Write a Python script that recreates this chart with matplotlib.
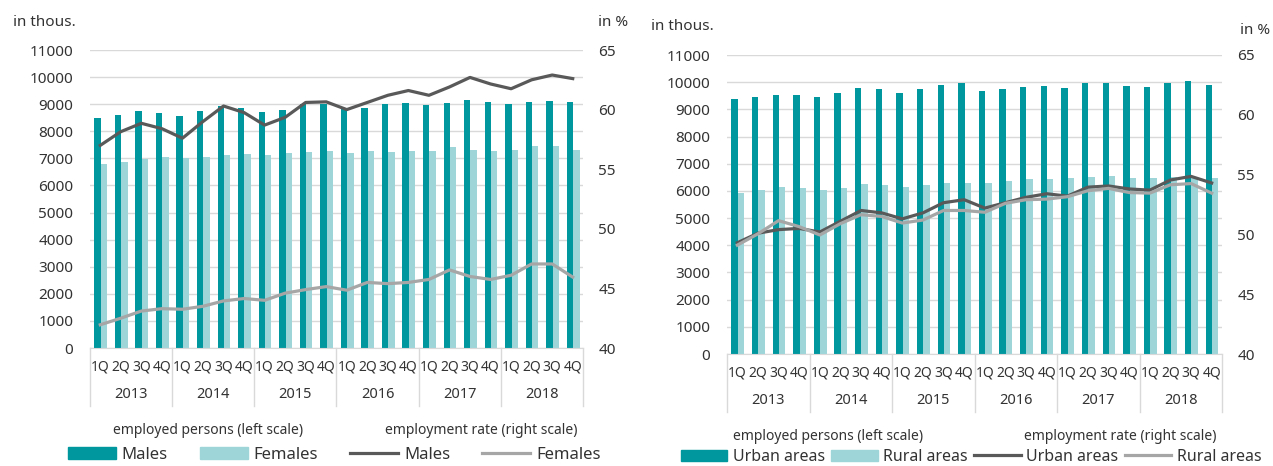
import numpy as np
import matplotlib.pyplot as plt
from matplotlib.patches import Patch
from matplotlib.lines import Line2D

plt.rcParams['font.family'] = ['Noto Sans', 'DejaVu Sans']

# data
years = ['2013', '2014', '2015', '2016', '2017', '2018']
quarters = ['1Q', '2Q', '3Q', '4Q']

# left chart: by sex
males_emp = [8480, 8600, 8730, 8690, 8570, 8730, 8920, 8870, 8700, 8800, 8990, 9000,
             8820, 8870, 9000, 9030, 8960, 9030, 9170, 9090, 9000, 9080, 9130, 9080]
females_emp = [6790, 6870, 6990, 7040, 7000, 7040, 7120, 7160, 7120, 7210, 7250, 7280,
               7210, 7280, 7250, 7280, 7280, 7420, 7320, 7280, 7320, 7460, 7460, 7320]
males_rate = [57.0, 58.15, 58.85, 58.4, 57.6, 59.0, 60.3, 59.75, 58.7, 59.35, 60.6, 60.65,
              60.0, 60.6, 61.2, 61.6, 61.2, 61.9, 62.7, 62.15, 61.75, 62.5, 62.9, 62.6]
females_rate = [41.95, 42.5, 43.1, 43.3, 43.25, 43.5, 43.95, 44.15, 44.0, 44.6, 44.9, 45.15,
                44.85, 45.5, 45.4, 45.5, 45.75, 46.55, 46.0, 45.75, 46.1, 47.05, 47.05, 45.95]

# right chart: by area
urban_emp = [9380, 9470, 9530, 9530, 9470, 9620, 9780, 9740, 9620, 9740, 9900, 9960,
             9690, 9740, 9815, 9865, 9780, 9960, 9960, 9865, 9815, 9985, 10035, 9900]
rural_emp = [5920, 6040, 6160, 6125, 6040, 6125, 6260, 6210, 6160, 6210, 6300, 6300,
             6300, 6370, 6420, 6420, 6470, 6510, 6545, 6470, 6470, 6500, 6500, 6470]
urban_rate = [49.3, 50.1, 50.4, 50.5, 50.2, 51.1, 52.0, 51.8, 51.3, 51.8, 52.65, 52.9,
              52.2, 52.65, 53.1, 53.4, 53.2, 53.95, 54.05, 53.8, 53.7, 54.55, 54.85, 54.3]
rural_rate = [49.1, 50.05, 51.15, 50.65, 49.95, 50.9, 51.65, 51.5, 50.95, 51.2, 52.0, 52.0,
              51.85, 52.6, 52.9, 52.95, 53.15, 53.65, 53.85, 53.5, 53.45, 54.15, 54.25, 53.45]

dark_teal = '#00979e'
light_teal = '#9dd5d9'
dark_line = '#595959'
light_line = '#a6a6a6'
grid_col = '#d9d9d9'
txt_col = '#333333'

W, H = 1273, 466
fig = plt.figure(figsize=(W / 100, H / 100), dpi=100)


def draw_panel(px0, px1, py0, py1, bars_a, bars_b, line_a, line_b):
    ax = fig.add_axes([px0 / W, 1 - py1 / H, (px1 - px0) / W, (py1 - py0) / H])
    x = np.arange(len(bars_a))
    w = 0.31
    ax.bar(x - w / 2 + 0.02, bars_a, w, color=dark_teal, zorder=2)
    ax.bar(x + w / 2 + 0.02, bars_b, w, color=light_teal, zorder=2)
    ax.set_xlim(-0.5, len(x) - 0.5)
    ax.set_ylim(0, 11000)
    ax.set_yticks(range(0, 11001, 1000))
    ax.yaxis.grid(True, color=grid_col, lw=1, zorder=0)
    ax.set_axisbelow(True)
    for s in ['top', 'left', 'right']:
        ax.spines[s].set_visible(False)
    ax.spines['bottom'].set_color(grid_col)
    ax.tick_params(axis='y', length=0, pad=12, labelsize=11, colors=txt_col)
    ax.set_xticks(x)
    ax.set_xticklabels(quarters * len(years))
    ax.tick_params(axis='x', length=0, pad=8, labelsize=10, colors=txt_col)

    trans = ax.get_xaxis_transform()
    hpx = py1 - py0
    for k in range(len(years) + 1):
        xb = k * 4 - 0.5
        ax.plot([xb, xb], [0, -58 / hpx], transform=trans, clip_on=False,
                color=grid_col, lw=1)
    for k, yr in enumerate(years):
        ax.text(k * 4 + 1.5, -46 / hpx, yr, transform=trans, ha='center', va='center',
                fontsize=10.5, color=txt_col)

    ax2 = ax.twinx()
    ax2.plot(x, line_a, color=dark_line, lw=2.3, zorder=3)
    ax2.plot(x, line_b, color=light_line, lw=2.3, zorder=3)
    ax2.set_ylim(40, 65)
    ax2.set_yticks(range(40, 66, 5))
    for s in ['top', 'left', 'right', 'bottom']:
        ax2.spines[s].set_visible(False)
    ax2.tick_params(axis='y', length=0, pad=11, labelsize=11, colors=txt_col)
    return ax


draw_panel(90, 583, 50, 348, males_emp, females_emp, males_rate, females_rate)
draw_panel(727, 1222, 55, 354, urban_emp, rural_emp, urban_rate, rural_rate)

# axis unit labels
fig.text(13 / W, 1 - 22 / H, 'in thous.', fontsize=11, color=txt_col, va='center')
fig.text(598 / W, 1 - 22 / H, 'in %', fontsize=11, color=txt_col, va='center')
fig.text(651 / W, 1 - 27 / H, 'in thous.', fontsize=11, color=txt_col, va='center')
fig.text(1240 / W, 1 - 30 / H, 'in %', fontsize=11, color=txt_col, va='center')

# legend headings
fig.text(208 / W, 1 - 431 / H, 'employed persons (left scale)', fontsize=10,
         color=txt_col, ha='center', va='center')
fig.text(481 / W, 1 - 431 / H, 'employment rate (right scale)', fontsize=10,
         color=txt_col, ha='center', va='center')
fig.text(828 / W, 1 - 436 / H, 'employed persons (left scale)', fontsize=10,
         color=txt_col, ha='center', va='center')
fig.text(1120 / W, 1 - 436 / H, 'employment rate (right scale)', fontsize=10,
         color=txt_col, ha='center', va='center')


def legend_row(names, cx, cy, fs, colsp):
    handles = [Patch(color=dark_teal), Patch(color=light_teal),
               Line2D([], [], color=dark_line, lw=2.3),
               Line2D([], [], color=light_line, lw=2.3)]
    labels = [names[0], names[1], names[0], names[1]]
    fig.legend(handles, labels, loc='center', bbox_to_anchor=(cx / W, 1 - cy / H),
               ncol=4, frameon=False, fontsize=fs, handlelength=2.9,
               handleheight=0.75, handletextpad=0.35, columnspacing=colsp,
               borderaxespad=0, borderpad=0, labelcolor=txt_col)


legend_row(['Males', 'Females'], 334, 455, 12, 1.9)
legend_row(['Urban areas', 'Rural areas'], 971, 457, 11.5, 0.4)

fig.savefig('out.png', dpi=100)
